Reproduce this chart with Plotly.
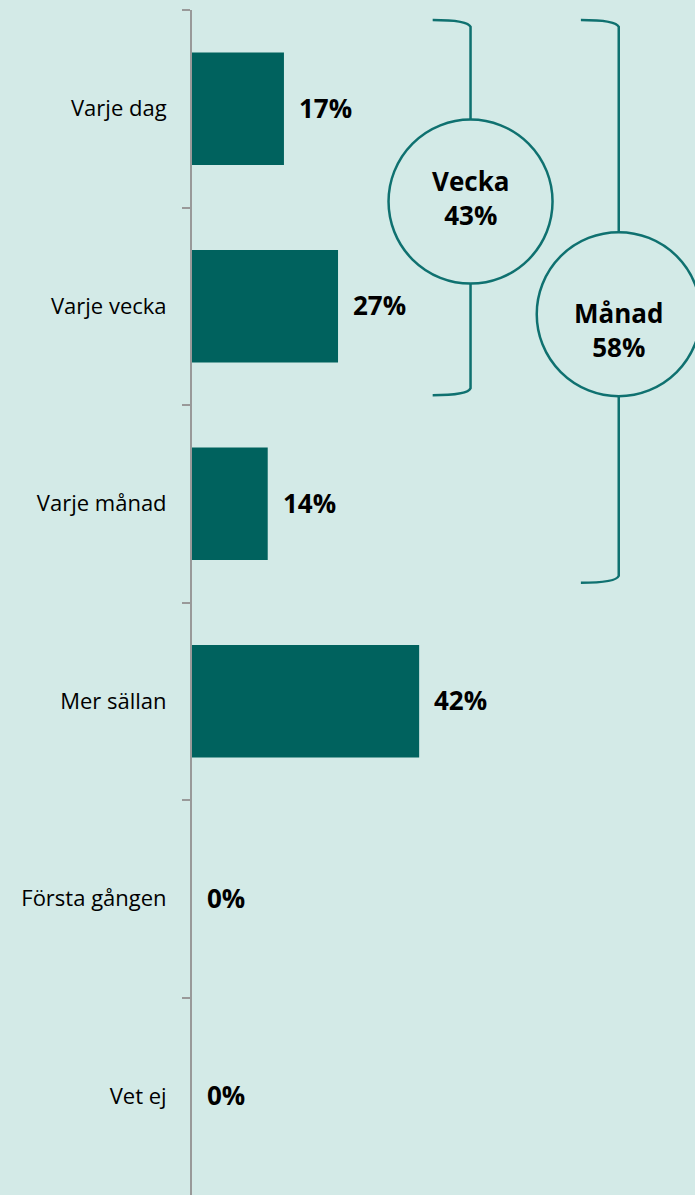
import plotly.graph_objects as go

categories = ["Varje dag", "Varje vecka", "Varje månad", "Mer sällan", "Första gången", "Vet ej"]
values = [17, 27, 14, 42, 0, 0]
value_labels = ["17%", "27%", "14%", "42%", "0%", "0%"]

group_names = ["Vecka", "Månad"]
group_totals = ["43%", "58%"]
group_top = [-0.45, -0.45]
group_bottom = [1.45, 2.40]
group_x = [51.5, 78.9]
group_circle_y = [0.47, 1.04]
group_text_shift = [4, -16]

BG = "#d3eae7"
BAR = "#00625e"
LINE = "#0f7170"
FONT = "Open Sans"

fig = go.Figure()
fig.add_trace(go.Bar(
    x=values, y=categories, orientation="h",
    marker=dict(color=BAR, line=dict(width=0)),
    hoverinfo="skip",
))

for v, lab, c in zip(values, value_labels, categories):
    fig.add_annotation(x=v, y=c, text="<b>%s</b>" % lab, showarrow=False,
                       xanchor="left", yanchor="middle", xshift=13, yshift=1,
                       font=dict(family=FONT, size=26, color="#000000"))

arm = 7.0
dy = 0.035
for name, tot, y0, y1, gx, cy, ts in zip(group_names, group_totals, group_top, group_bottom,
                                         group_x, group_circle_y, group_text_shift):
    path = (f"M {gx-arm},{y0} Q {gx-0.5},{y0} {gx},{y0+dy} "
            f"L {gx},{y1-dy} Q {gx-0.5},{y1} {gx-arm},{y1}")
    fig.add_shape(type="path", path=path, xref="x", yref="y",
                  line=dict(color=LINE, width=2.5), layer="above")
    fig.add_shape(type="circle", xref="x", yref="y",
                  xsizemode="pixel", ysizemode="pixel",
                  xanchor=gx, yanchor=cy, x0=-82, x1=82, y0=-82, y1=82,
                  line=dict(color=LINE, width=2.5), fillcolor=BG, layer="above")
    fig.add_annotation(x=gx, y=cy, text=f"<b>{name}<br>{tot}</b>", showarrow=False,
                       xanchor="center", yanchor="middle", yshift=ts,
                       font=dict(family=FONT, size=26, color="#000000"))

fig.update_layout(
    width=695, height=1195,
    margin=dict(l=192, r=0, t=10, b=0),
    paper_bgcolor=BG, plot_bgcolor=BG,
    bargap=0.43,
    showlegend=False,
    font=dict(family=FONT, size=22, color="#000000"),
    xaxis=dict(range=[0, 93], visible=False, showgrid=False, zeroline=False),
    yaxis=dict(
        type="category",
        categoryorder="array", categoryarray=categories,
        range=[5.5, -0.5],
        showline=True, linecolor="#999999", linewidth=2,
        ticks="outside", ticklen=8, tickcolor="#999999", tickwidth=2,
        tickson="boundaries",
        ticklabelstandoff=19,
        showgrid=False, zeroline=False,
        tickfont=dict(family=FONT, size=22, color="#000000"),
    ),
)

fig.write_html("out.html", config={"displayModeBar": False},
               post_script="document.body.style.margin='0px';")
